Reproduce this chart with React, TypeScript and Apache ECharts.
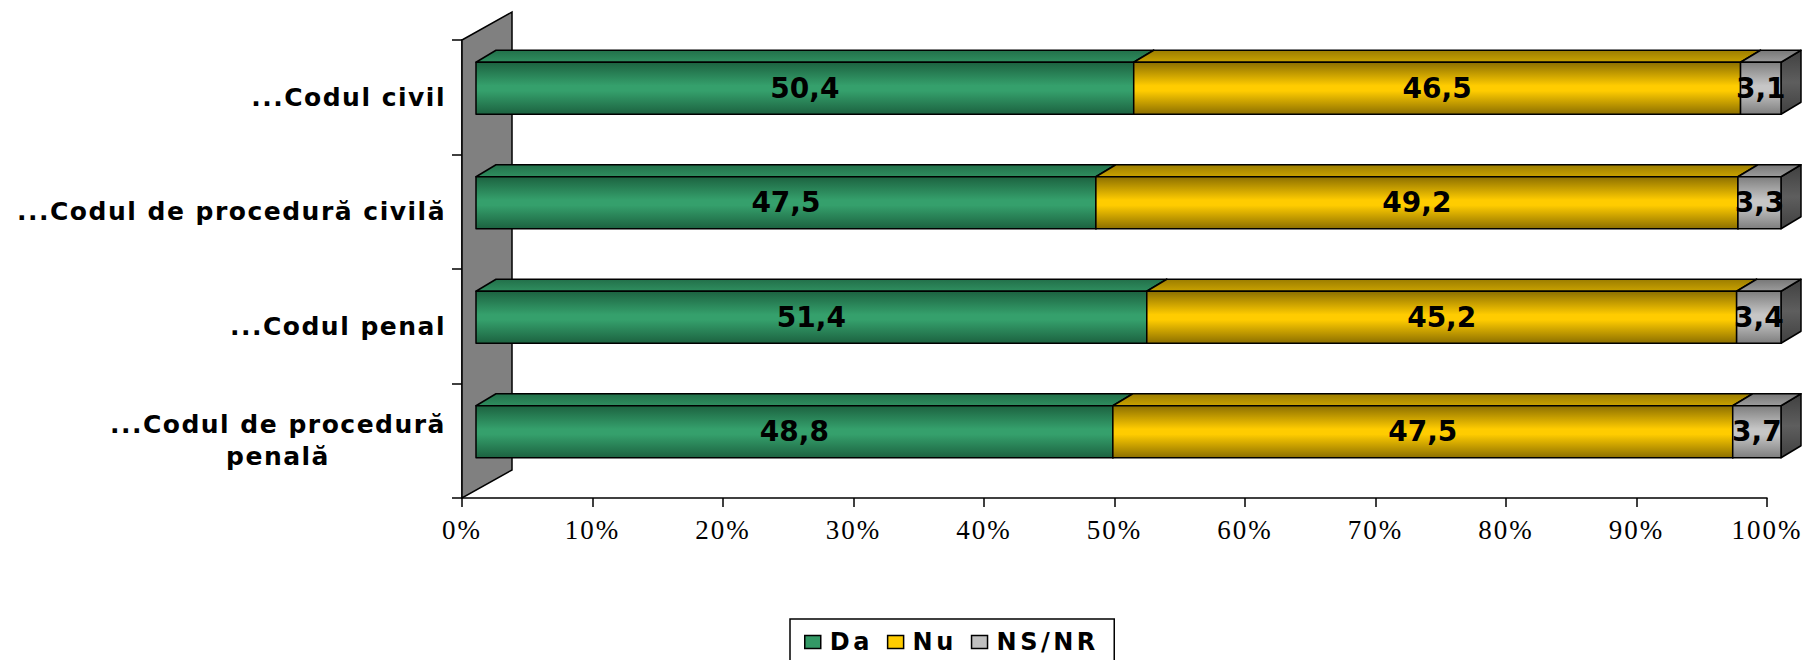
import React, { useEffect, useRef } from 'react';
import * as echarts from 'echarts';

// ---------- data ----------
const categories: string[] = [
  '...Codul civil',
  '...Codul de procedură civilă',
  '...Codul penal',
  '...Codul de procedură\npenală',
];
const seriesNames: string[] = ['Da', 'Nu', 'NS/NR'];
const daValues: number[] = [50.4, 47.5, 51.4, 48.8];
const nuValues: number[] = [46.5, 49.2, 45.2, 47.5];
const nsnrValues: number[] = [3.1, 3.3, 3.4, 3.7];
const xAxisMin = 0;
const xAxisMax = 100;
const xAxisStep = 10;

// ---------- styling ----------
const FONT_SANS = 'DejaVu Sans';
const FONT_SERIF = 'Liberation Serif';

const BAR_FRONT_DX = 14;
const BAR_FRONT_DY = -9;
const BAR_DEPTH_DX = 20;
const BAR_DEPTH_DY = -12;
const BAR_BAND_FRACTION = 0.454;
const WALL_DX = 50;
const WALL_DY = -28;

const faceColors = [
  { solid: '#339966', frontEdge: '#1c6240', frontMid: '#35a06c', topBack: '#22704a', topFront: '#2f8e5f', sideA: '#1a5a3a', sideB: '#236f4a' },
  { solid: '#FFCC00', frontEdge: '#8c6f00', frontMid: '#ffcc00', topBack: '#9c7d00', topFront: '#c9a200', sideA: '#7a6000', sideB: '#9a7a00' },
  { solid: '#C0C0C0', frontEdge: '#7e7e7e', frontMid: '#c6c6c6', topBack: '#777777', topFront: '#9c9c9c', sideA: '#404040', sideB: '#5e5e5e' },
];

const css = `
html, body { margin: 0; padding: 0; overflow: hidden; background: #fff; }
.chart3d text[style*="25px"] { letter-spacing: 1.5px; }
.chart3d text[style*="24px"] { letter-spacing: 3.5px; }
.chart3d text[style*="Serif"] { letter-spacing: 2px; }
`;

const valueSets = [daValues, nuValues, nsnrValues];
const stackedData = valueSets.map((vals, k) =>
  vals.map((v, i) => {
    let start = 0;
    for (let j = 0; j < k; j++) start += valueSets[j][i];
    return [i, start, start + v, v];
  })
);

const fmt = (v: number) => String(v).replace('.', ',');

const vGrad = (a: string, b: string, c: string) =>
  new echarts.graphic.LinearGradient(0, 0, 0, 1, [
    { offset: 0, color: a },
    { offset: 0.45, color: b },
    { offset: 0.55, color: b },
    { offset: 1, color: c },
  ]);

const makeBarRender = (k: number) => (params: any, api: any) => {
  const cat = api.value(0);
  const s = api.value(1);
  const e = api.value(2);
  const v = api.value(3);
  const a = api.coord([s, cat]);
  const b = api.coord([e, cat]);
  const band = api.size([0, 1])[1];
  const h = band * BAR_BAND_FRACTION;
  const x0 = a[0] + BAR_FRONT_DX;
  const x1 = b[0] + BAR_FRONT_DX;
  const y0 = a[1] + BAR_FRONT_DY - h / 2;
  const y1 = y0 + h;
  const c = faceColors[k];
  const stroke = { stroke: '#000', lineWidth: 1.5, lineJoin: 'round' };
  return {
    type: 'group',
    children: [
      {
        type: 'polygon',
        shape: { points: [[x1, y0], [x1 + BAR_DEPTH_DX, y0 + BAR_DEPTH_DY], [x1 + BAR_DEPTH_DX, y1 + BAR_DEPTH_DY], [x1, y1]] },
        style: { fill: new echarts.graphic.LinearGradient(0, 0, 0, 1, [{ offset: 0, color: c.sideA }, { offset: 0.5, color: c.sideB }, { offset: 1, color: c.sideA }]), ...stroke },
      },
      {
        type: 'polygon',
        shape: { points: [[x0, y0], [x0 + BAR_DEPTH_DX, y0 + BAR_DEPTH_DY], [x1 + BAR_DEPTH_DX, y0 + BAR_DEPTH_DY], [x1, y0]] },
        style: { fill: new echarts.graphic.LinearGradient(0, 0, 0, 1, [{ offset: 0, color: c.topBack }, { offset: 1, color: c.topFront }]), ...stroke },
      },
      {
        type: 'rect',
        shape: { x: x0, y: y0, width: x1 - x0, height: h },
        style: { fill: vGrad(c.frontEdge, c.frontMid, c.frontEdge), ...stroke },
      },
      {
        type: 'text',
        x: (x0 + x1) / 2,
        y: (y0 + y1) / 2,
        style: {
          text: fmt(v),
          fill: '#000',
          font: `bold 28px "${FONT_SANS}"`,
          textAlign: 'center',
          textVerticalAlign: 'middle',
          align: 'center',
          verticalAlign: 'middle',
        },
      },
    ],
  };
};

const wallRender = (params: any) => {
  const cs = params.coordSys;
  const xl = cs.x;
  const yt = cs.y;
  const yb = cs.y + cs.height;
  return {
    type: 'polygon',
    shape: { points: [[xl, yt], [xl + WALL_DX, yt + WALL_DY], [xl + WALL_DX, yb + WALL_DY], [xl, yb]] },
    style: { fill: '#808080', stroke: '#000', lineWidth: 1.5 },
  };
};

const yLabelFormatter = (v: string) =>
  v
    .split('\n')
    .map((line, i) => (i === 0 ? `{a|${line}}` : `{b|${line}}`))
    .join('\n');

const option: any = {
  animation: false,
  backgroundColor: '#ffffff',
  grid: { left: 462, right: 40, top: 40, bottom: 162, containLabel: false },
  legend: {
    data: seriesNames,
    left: 790,
    top: 619,
    orient: 'horizontal',
    icon: 'rect',
    itemWidth: 16,
    itemHeight: 13,
    itemGap: 21,
    padding: [11, 33, 30, 14],
    borderColor: '#000',
    borderWidth: 1.5,
    selectedMode: false,
    itemStyle: { borderColor: '#000', borderWidth: 1.5 },
    textStyle: { fontFamily: FONT_SANS, fontWeight: 'bold', fontSize: 24, color: '#000', padding: [0, 0, 0, 4] },
  },
  xAxis: {
    type: 'value',
    min: xAxisMin,
    max: xAxisMax,
    interval: xAxisStep,
    axisLine: { show: true, lineStyle: { color: '#000', width: 1.5 } },
    axisTick: { show: true, length: 9, lineStyle: { color: '#000', width: 1.5 } },
    axisLabel: { formatter: '{value}%', fontFamily: FONT_SERIF, fontSize: 27, color: '#000', margin: 18 },
    splitLine: { show: false },
  },
  yAxis: {
    type: 'category',
    data: categories,
    inverse: true,
    axisLine: { show: true, lineStyle: { color: '#000', width: 1.5 } },
    axisTick: { show: true, length: 10, lineStyle: { color: '#000', width: 1.5 } },
    axisLabel: {
      interval: 0,
      margin: 16,
      formatter: yLabelFormatter,
      fontFamily: FONT_SANS,
      fontWeight: 'bold',
      fontSize: 25,
      color: '#000',
      rich: {
        a: { fontFamily: FONT_SANS, fontWeight: 'bold', fontSize: 25, color: '#000', align: 'right', lineHeight: 32 },
        b: { fontFamily: FONT_SANS, fontWeight: 'bold', fontSize: 25, color: '#000', align: 'right', lineHeight: 32, padding: [0, 116, 0, 0] },
      },
    },
    splitLine: { show: false },
  },
  series: [
    {
      name: 'wall',
      type: 'custom',
      z: 1,
      silent: true,
      renderItem: wallRender,
      data: [[0, 0]],
      encode: { x: 0, y: 1 },
    },
    ...seriesNames.map((name, k) => ({
      name,
      type: 'custom',
      z: 2 + k,
      silent: true,
      itemStyle: { color: faceColors[k].solid },
      renderItem: makeBarRender(k),
      data: stackedData[k],
      encode: { x: [1, 2], y: 0 },
    })),
  ],
};

export default function App() {
  const ref = useRef<HTMLDivElement>(null);
  useEffect(() => {
    const el = ref.current;
    if (!el) return;
    const chart = echarts.init(el, null, { renderer: 'svg' });
    chart.setOption(option);
    return () => chart.dispose();
  }, []);
  return (
    <>
      <style>{css}</style>
      <div
        ref={ref}
        className="chart3d"
        style={{ position: 'absolute', left: 0, top: 0, width: 1807, height: 660, background: '#fff' }}
      />
    </>
  );
}
